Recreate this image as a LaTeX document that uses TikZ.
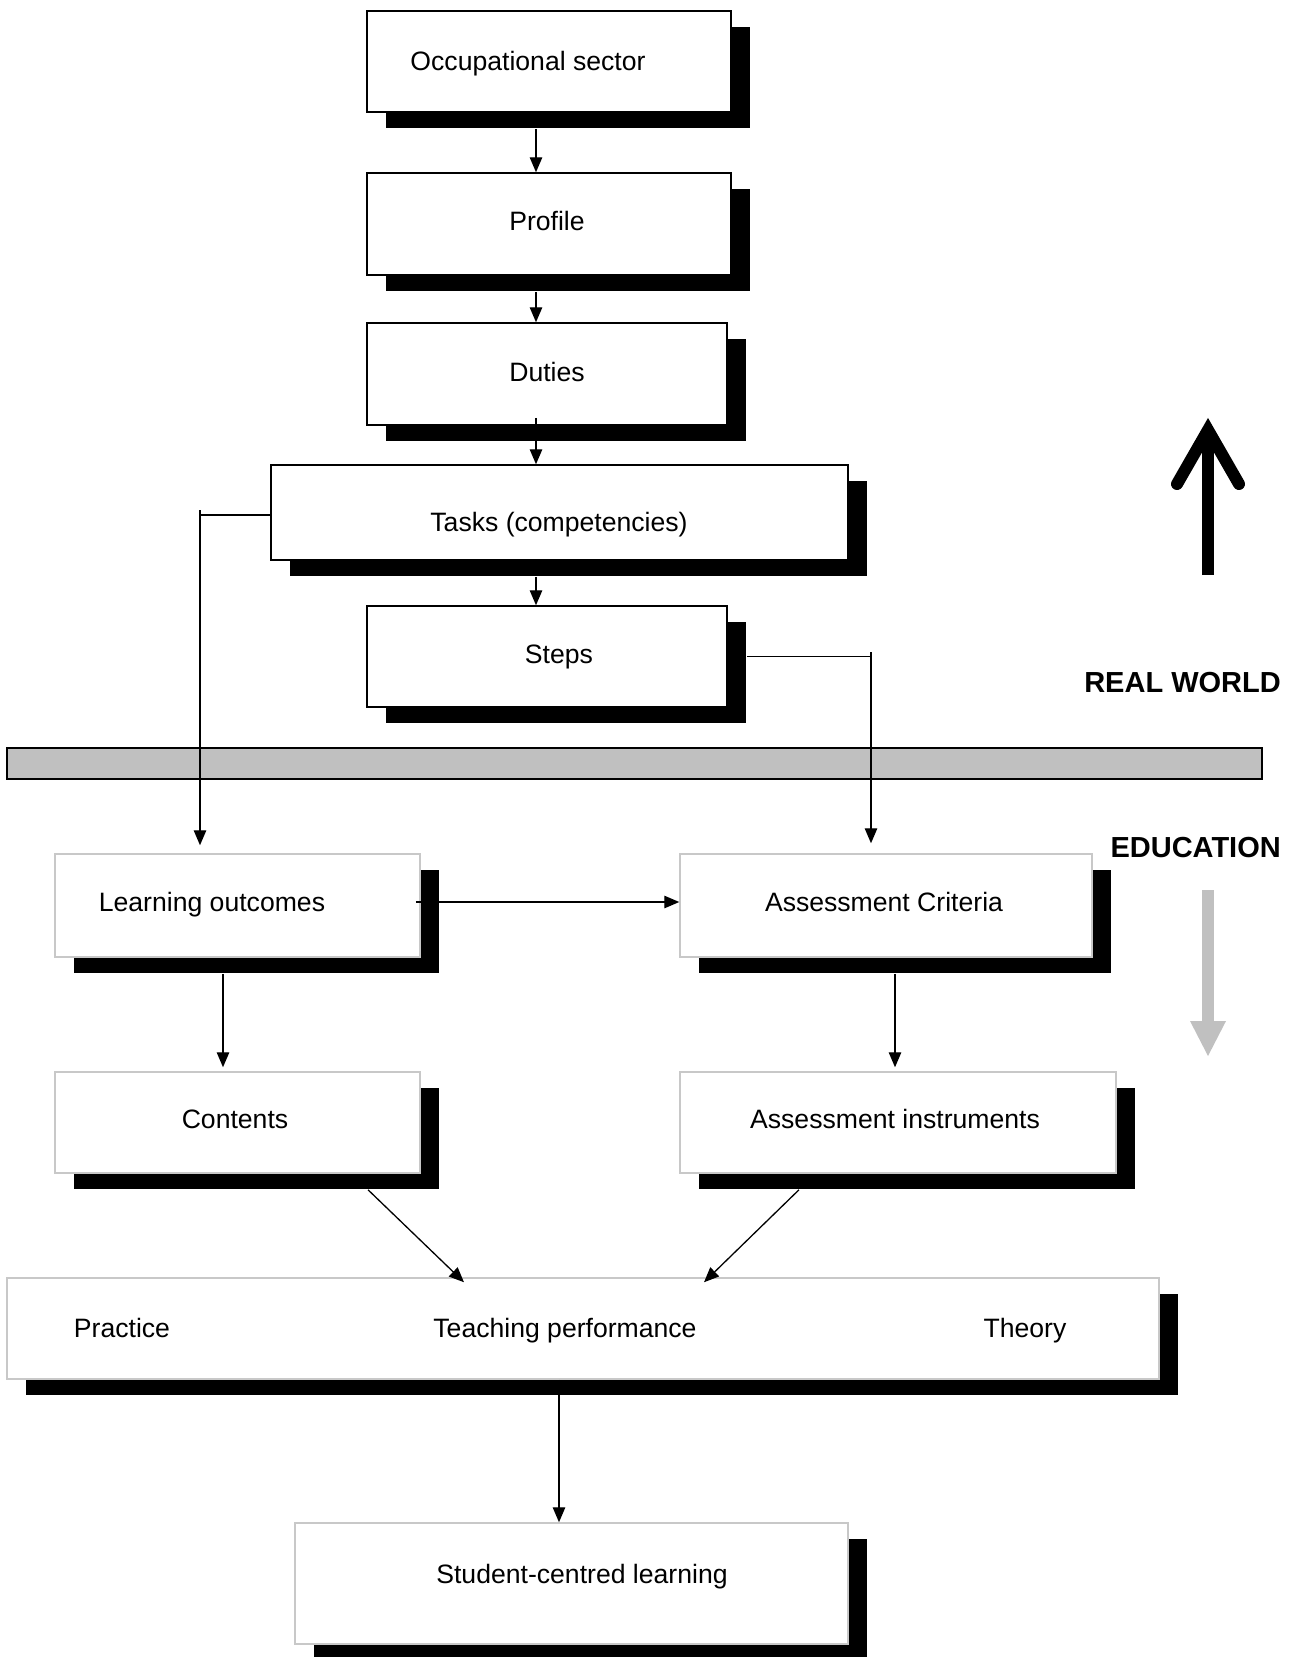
\documentclass[tikz,border=0pt]{standalone}
\usepackage{fontspec}
\setmainfont{Liberation Sans}
\usetikzlibrary{shadows,arrows.meta,calc}
\definecolor{boxgray}{RGB}{200,200,200}
\definecolor{bargray}{RGB}{192,192,192}
\begin{document}
\begin{tikzpicture}[x=1pt,y=-1pt,
  box/.style={draw=black, line width=1.5pt, fill=white, inner sep=0pt,
    drop shadow={shadow xshift=19pt, shadow yshift=-16pt, opacity=1, fill=black}},
  ebox/.style={box, draw=boxgray},
  txt/.style={font=\fontsize{26.6}{32}\selectfont, inner sep=0pt, text height=19pt, text depth=0pt},
  hdr/.style={font=\fontsize{29}{34}\selectfont\bfseries, inner sep=0pt, text height=21pt, text depth=0pt},
  arr/.style={line width=1.3pt, -{Triangle[length=15pt,width=12.5pt]}},
  con/.style={line width=1.3pt}]
\useasboundingbox (0,0) rectangle (1299,1657);

% upper boxes
\node[box, minimum width=364pt, minimum height=101pt] (occ) at (549,61.5) {};
\node[box, minimum width=364pt, minimum height=102pt] (prof) at (549,224) {};
\node[box, minimum width=360pt, minimum height=102pt] (duty) at (547,374) {};
\node[box, minimum width=577pt, minimum height=95pt] (task) at (559.5,512.5) {};
\node[box, minimum width=360pt, minimum height=101pt] (steps) at (547,656.5) {};

% separator bar
\node[draw=black, line width=1.5pt, fill=bargray, inner sep=0pt,
  minimum width=1255pt, minimum height=31pt] (bar) at (634.5,763.5) {};

% lower boxes
\node[ebox, minimum width=365pt, minimum height=103pt] (lo) at (237.5,905.5) {};
\node[ebox, minimum width=412pt, minimum height=103pt] (ac) at (886,905.5) {};
\node[ebox, minimum width=365pt, minimum height=101pt] (cont) at (237.5,1122.5) {};
\node[ebox, minimum width=436pt, minimum height=101pt] (ai) at (898,1122.5) {};
\node[ebox, minimum width=1152pt, minimum height=101pt] (tp) at (583,1328.5) {};
\node[ebox, minimum width=553pt, minimum height=121pt] (scl) at (571.5,1583.5) {};

% texts
\node[txt] (occt) at (528,61) {Occupational sector};
\node[txt] (proft) at (547,221) {Profile};
\node[txt] (dutyt) at (547,372) {Duties};
\node[txt] (taskt) at (559,522) {Tasks (competencies)};
\node[txt] (stepst) at (559,654) {Steps};
\node[txt] (lot) at (212,902) {Learning outcomes};
\node[txt] (act) at (884,902) {Assessment Criteria};
\node[txt] (contt) at (235,1119) {Contents};
\node[txt] (ait) at (895,1119) {Assessment instruments};
\node[txt] (prac) at (122,1328) {Practice};
\node[txt] (tpt) at (565,1328) {Teaching performance};
\node[txt] (theo) at (1025,1328) {Theory};
\node[txt] (sclt) at (582,1574) {Student-centred learning};
\node[hdr, anchor=east] (rw) at (1281,682) {REAL WORLD};
\node[hdr, anchor=east] (edu) at (1281,847) {EDUCATION};

% upper arrows
\draw[arr] ([xshift=-13pt,yshift=-16pt]occ.south) -- ([xshift=-13pt]prof.north);
\draw[arr] ([xshift=-13pt,yshift=-16pt]prof.south) -- ([xshift=-11pt]duty.north);
\draw[arr] ([xshift=-11pt,yshift=8pt]duty.south) -- ([xshift=-23.5pt]task.north);
\draw[arr] ([xshift=-23.5pt,yshift=-16pt]task.south) -- ([xshift=-11pt]steps.north);

% left connector
\coordinate (lc) at (200,510);
\draw[con] ([yshift=-2.5pt]task.west) coordinate (tw) -- (tw -| lc);
\draw[arr] (lc) -- ([xshift=-37.5pt,yshift=8pt]lo.north);

% right connector
\coordinate (rc) at (871,652);
\draw[con] ([xshift=19pt]steps.east) coordinate (se) -- (se -| rc);
\draw[arr] (rc) -- ([xshift=-15pt,yshift=10pt]ac.north);

% lower arrows
\draw[arr] ([xshift=-5pt,yshift=3.5pt]lo.east) -- ([yshift=3.5pt]ac.west);
\draw[arr] ([xshift=-14.5pt,yshift=-16pt]lo.south) -- ([xshift=-14.5pt,yshift=4pt]cont.north);
\draw[arr] ([xshift=9pt,yshift=-16pt]ac.south) -- ([xshift=-3pt,yshift=4pt]ai.north);
\draw[arr] ([xshift=130.5pt,yshift=-16pt]cont.south) -- ([xshift=-119pt,yshift=-5pt]tp.north);
\draw[arr] ([xshift=-99pt,yshift=-16pt]ai.south) -- ([xshift=121pt,yshift=-5pt]tp.north);
\draw[arr] ([xshift=-24pt]tp.south) -- ([xshift=-12.5pt]scl.north);

% big black up arrow
\draw[line width=12pt] (1208,575) -- (1208,432);
\draw[line width=12pt, line cap=round, line join=miter] (1177,484) -- (1208,430) -- (1239,484);

% gray down arrow
\fill[bargray] (1202,890) rectangle (1214,1021);
\fill[bargray] (1190,1021) -- (1226,1021) -- (1208,1056) -- cycle;
\end{tikzpicture}
\end{document}
